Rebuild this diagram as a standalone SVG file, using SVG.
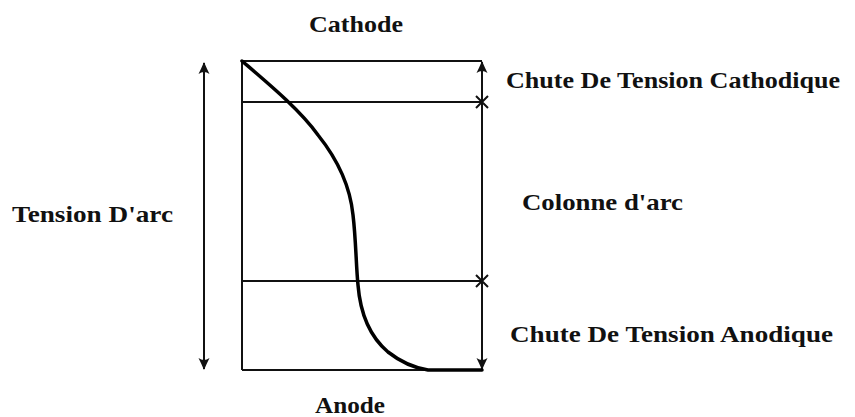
<svg xmlns="http://www.w3.org/2000/svg" width="855" height="417" viewBox="0 0 855 417">
<style>
.ln{stroke:#111;stroke-width:2;fill:none}
.cv{stroke:#000;stroke-width:3.5;fill:none;stroke-linecap:round}
text{font-family:"Liberation Serif","Times New Roman",serif;font-weight:bold;font-size:23px;fill:#111}
</style>
<defs>
<marker id="ah" viewBox="0 0 12 12" refX="11" refY="6" markerWidth="12" markerHeight="12" orient="auto-start-reverse" markerUnits="userSpaceOnUse">
<path d="M0,0.5 Q5,3 12,6 Q5,9 0,11.5 Q4,6 0,0.5 Z" fill="#111"/>
</marker>
</defs>
<rect width="855" height="417" fill="#fff"/>
<g id="frame">
<line class="ln" x1="242" y1="61" x2="242" y2="370"/>
<line class="ln" x1="242" y1="61" x2="482" y2="61"/>
<line class="ln" x1="242" y1="102" x2="482" y2="102"/>
<line class="ln" x1="242" y1="281" x2="482" y2="281"/>
<line class="ln" x1="242" y1="370" x2="482" y2="370"/>
</g>
<g id="connectors">
<line class="ln" x1="204" y1="63" x2="204" y2="369" marker-start="url(#ah)" marker-end="url(#ah)"/>
<line class="ln" x1="482" y1="62" x2="482" y2="369" marker-start="url(#ah)" marker-end="url(#ah)"/>
<path class="ln" d="M476,96 L488,108 M488,96 L476,108"/>
<path class="ln" d="M476,275 L488,287 M488,275 L476,287"/>
</g>
<g id="curve">
<path class="cv" d="M242,61 C270,85 300,110 318,135 C338,160 350,185 353,215 C356,240 356,265 358,285 C360,310 368,335 388,352 C402,363 415,368 428,370 L482,370"/>
</g>
<g id="labels">
<text x="309" y="32" textLength="94" lengthAdjust="spacingAndGlyphs">Cathode</text>
<text x="506" y="88" textLength="334" lengthAdjust="spacingAndGlyphs">Chute De Tension Cathodique</text>
<text x="522" y="210" textLength="161" lengthAdjust="spacingAndGlyphs">Colonne d'arc</text>
<text x="12" y="222" textLength="161" lengthAdjust="spacingAndGlyphs">Tension D'arc</text>
<text x="510" y="342" textLength="323" lengthAdjust="spacingAndGlyphs">Chute De Tension Anodique</text>
<text x="315" y="413" textLength="70" lengthAdjust="spacingAndGlyphs">Anode</text>
</g>
</svg>
